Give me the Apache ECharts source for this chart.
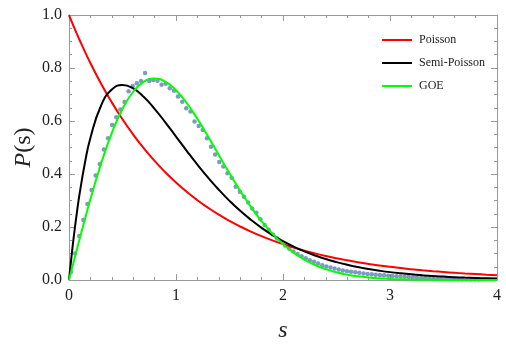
<!DOCTYPE html>
<html>
<head>
<meta charset="utf-8">
<script src="https://cdn.jsdelivr.net/npm/echarts@6/dist/echarts.min.js"></script>
<style>
  html, body { margin: 0; padding: 0; background: #fff; }
  #main { width: 506px; height: 353px; }
</style>
</head>
<body>
<div id="main"></div>
<script>
// s grid used for the three curves (finer near 0 where Semi-Poisson is steep)
var sGrid = [0, 0.025, 0.05, 0.075, 0.1, 0.15, 0.2, 0.3, 0.4, 0.5, 0.6, 0.7, 0.8, 0.9, 1.0,
  1.1, 1.2, 1.3, 1.4, 1.5, 1.6, 1.7, 1.8, 1.9, 2.0, 2.1, 2.2, 2.3, 2.4, 2.5, 2.6, 2.7, 2.8, 2.9, 3.0,
  3.1, 3.2, 3.3, 3.4, 3.5, 3.6, 3.7, 3.8, 3.9, 4.0];

var poisson = [1.0, 0.9753, 0.9512, 0.9277, 0.9048, 0.8607, 0.8187, 0.7408, 0.6703, 0.6065, 0.5488, 0.4966, 0.4493, 0.4066, 0.3679,
  0.3329, 0.3012, 0.2725, 0.2466, 0.2231, 0.2019, 0.1827, 0.1653, 0.1496, 0.1353, 0.1225, 0.1108, 0.1003, 0.0907, 0.0821, 0.0743, 0.0672, 0.0608, 0.0550, 0.0498,
  0.0450, 0.0408, 0.0369, 0.0334, 0.0302, 0.0273, 0.0247, 0.0224, 0.0202, 0.0183];

var semiPoisson = [0, 0.0951, 0.1810, 0.2582, 0.3275, 0.4445, 0.5362, 0.6586, 0.7189, 0.7358, 0.7229, 0.6905, 0.6461, 0.5951, 0.5413,
  0.4875, 0.4354, 0.3863, 0.3405, 0.2987, 0.2609, 0.2270, 0.1967, 0.1700, 0.1465, 0.1260, 0.1080, 0.0926, 0.0790, 0.0674, 0.0574, 0.0488, 0.0415, 0.0352, 0.0297,
  0.0252, 0.0213, 0.0180, 0.0151, 0.0128, 0.0108, 0.0090, 0.0076, 0.0064, 0.0054];

var goe = [0, 0.0393, 0.0784, 0.1173, 0.1559, 0.2315, 0.3044, 0.4391, 0.5541, 0.6454, 0.7104, 0.7483, 0.7602, 0.7483, 0.7162,
  0.6680, 0.6083, 0.5415, 0.4718, 0.4025, 0.3366, 0.2759, 0.2220, 0.1752, 0.1358, 0.1033, 0.0772, 0.0567, 0.0409, 0.0290, 0.0202, 0.0138, 0.0093, 0.0062, 0.0040,
  0.0026, 0.0016, 0.0010, 0.0006, 0.0003, 0.0002, 0.0001, 0.0001, 0.0000, 0.0000];

// numerical spacing distribution (blue dots)
var dotS = [0.018, 0.057, 0.095, 0.134, 0.172, 0.211, 0.249, 0.288, 0.326, 0.365, 0.403, 0.442, 0.480, 0.519, 0.557, 0.596, 0.634, 0.673, 0.711, 0.750,
  0.788, 0.827, 0.865, 0.904, 0.942, 0.981, 1.019, 1.058, 1.096, 1.135, 1.173, 1.212, 1.250, 1.289, 1.327, 1.366, 1.404, 1.443, 1.481, 1.520,
  1.558, 1.597, 1.635, 1.674, 1.712, 1.751, 1.789, 1.828, 1.866, 1.905, 1.943, 1.982, 2.020, 2.059, 2.097, 2.136, 2.174, 2.213, 2.251, 2.290,
  2.328, 2.367, 2.405, 2.444, 2.482, 2.521, 2.559, 2.598, 2.636, 2.675, 2.713, 2.752, 2.790, 2.829, 2.867, 2.906, 2.944, 2.983, 3.021, 3.060,
  3.098, 3.137, 3.175, 3.214, 3.252, 3.291, 3.329, 3.368, 3.406, 3.445, 3.483, 3.522, 3.560, 3.599, 3.637, 3.676, 3.714, 3.753, 3.791, 3.830];
var dotP = [0.030, 0.100, 0.166, 0.226, 0.287, 0.340, 0.394, 0.438, 0.492, 0.535, 0.585, 0.614, 0.643, 0.672, 0.712, 0.732, 0.742, 0.751, 0.781, 0.751,
  0.755, 0.752, 0.737, 0.741, 0.724, 0.714, 0.692, 0.673, 0.648, 0.636, 0.598, 0.581, 0.566, 0.535, 0.503, 0.474, 0.445, 0.428, 0.403, 0.386,
  0.352, 0.333, 0.314, 0.292, 0.270, 0.254, 0.229, 0.208, 0.190, 0.172, 0.157, 0.143, 0.130, 0.118, 0.108, 0.098, 0.090, 0.082, 0.075, 0.069,
  0.062, 0.056, 0.051, 0.047, 0.043, 0.040, 0.036, 0.033, 0.031, 0.029, 0.027, 0.025, 0.023, 0.022, 0.020, 0.019, 0.018, 0.016, 0.015, 0.014,
  0.013, 0.012, 0.011, 0.010, 0.009, 0.008, 0.008, 0.007, 0.006, 0.006, 0.005, 0.005, 0.004, 0.004, 0.003, 0.003, 0.003, 0.002, 0.002, 0.002];

var seriesNames = ['Poisson', 'Semi-Poisson', 'GOE'];

function pairs(xs, ys) {
  return xs.map(function (x, i) { return [x, ys[i]]; });
}

var serif = '"Liberation Serif", "DejaVu Serif", serif';
var frameColor = '#999999';

var myChart = echarts.init(document.getElementById('main'));

// frame axis (Mathematica style, ticks on all 4 sides)
function frameX(pos, showLabel) {
  return {
    type: 'value', position: pos, min: 0, max: 4, interval: 1,
    axisLine: { show: true, onZero: false, lineStyle: { color: frameColor, width: 1 } },
    axisTick: { show: true, inside: true, length: 6, lineStyle: { color: frameColor } },
    minorTick: { show: true, splitNumber: 5, length: 3, lineStyle: { color: frameColor } },
    splitLine: { show: false },
    axisLabel: { show: showLabel, color: '#222', fontFamily: serif, fontSize: 16, margin: 8 }
  };
}
function frameY(pos, showLabel) {
  return {
    type: 'value', position: pos, min: 0, max: 1, interval: 0.2,
    axisLine: { show: true, onZero: false, lineStyle: { color: frameColor, width: 1 } },
    axisTick: { show: true, inside: true, length: 6, lineStyle: { color: frameColor } },
    minorTick: { show: true, splitNumber: 4, length: 3, lineStyle: { color: frameColor } },
    splitLine: { show: false },
    axisLabel: {
      show: showLabel, color: '#222', fontFamily: serif, fontSize: 16, margin: 7,
      formatter: function (v) { return v.toFixed(1); }
    }
  };
}

var xBottom = frameX('bottom', true);
xBottom.name = 's';
xBottom.nameLocation = 'middle';
xBottom.nameGap = 39;
xBottom.nameMoveOverlap = false;
xBottom.nameTextStyle = { fontFamily: serif, fontStyle: 'italic', fontSize: 24, color: '#222' };

var yLeft = frameY('left', true);
yLeft.name = '{i|P}(s)';
yLeft.nameLocation = 'middle';
yLeft.nameGap = 33;
yLeft.nameRotate = 90;
yLeft.nameMoveOverlap = false;
yLeft.nameTextStyle = {
  fontFamily: serif, fontSize: 24, color: '#222',
  rich: { i: { fontFamily: serif, fontStyle: 'italic', fontSize: 24, color: '#222' } }
};

var option = {
  backgroundColor: '#fff',
  animation: false,
  grid: { left: 69, right: 9, top: 15, bottom: 73, outerBoundsMode: 'none' },
  legend: {
    data: seriesNames,
    orient: 'vertical',
    left: 377, top: 29,
    icon: 'rect',
    itemWidth: 30, itemHeight: 2, itemGap: 11,
    textStyle: { fontFamily: serif, fontSize: 12, color: '#222', padding: [0, 0, 0, 2] }
  },
  xAxis: [xBottom, frameX('top', false)],
  yAxis: [yLeft, frameY('right', false)],
  series: [
    {
      name: 'data', type: 'scatter', data: pairs(dotS, dotP),
      symbolSize: 4.5, itemStyle: { color: '#5E81B5' }, z: 1, silent: true
    },
    {
      name: 'Poisson', type: 'line', data: pairs(sGrid, poisson), smooth: true,
      showSymbol: false, lineStyle: { color: '#ff0000', width: 2 }, itemStyle: { color: '#ff0000' }, z: 2
    },
    {
      name: 'Semi-Poisson', type: 'line', data: pairs(sGrid, semiPoisson), smooth: true,
      showSymbol: false, lineStyle: { color: '#000000', width: 2 }, itemStyle: { color: '#000000' }, z: 3
    },
    {
      name: 'GOE', type: 'line', data: pairs(sGrid, goe), smooth: true,
      showSymbol: false, lineStyle: { color: '#00ff00', width: 2 }, itemStyle: { color: '#00ff00' }, z: 4
    }
  ]
};

myChart.setOption(option);
window.addEventListener('resize', function () { myChart.resize(); });
</script>
</body>
</html>
